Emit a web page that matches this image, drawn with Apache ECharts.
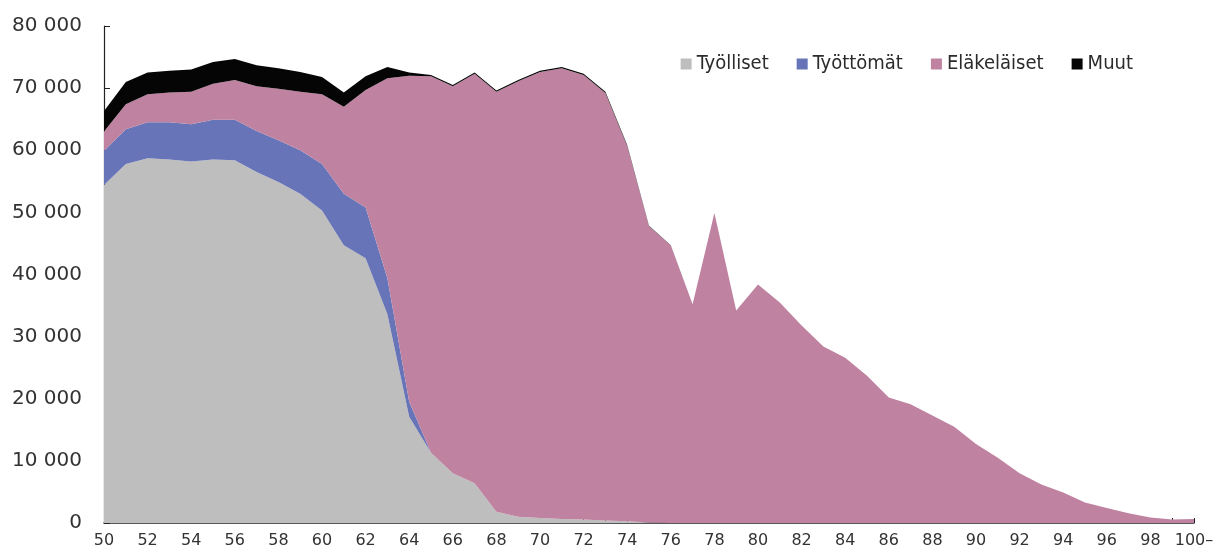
<!DOCTYPE html>
<html>
<head>
<meta charset="utf-8">
<script src="https://cdn.jsdelivr.net/npm/echarts@6/dist/echarts.min.js"></script>
<style>html,body{margin:0;padding:0;background:#fff}#c{width:1220px;height:554px}</style>
</head>
<body>
<div id="c"></div>
<script>
const ages = [];
for (let a = 50; a <= 99; a++) ages.push(String(a));
ages.push('100–');

const seriesNames = ['Työlliset', 'Työttömät', 'Eläkeläiset', 'Muut'];

const tyolliset = [54400,57800,58700,58500,58200,58500,58400,56500,54900,53000,
  50300,44700,42600,33600,17100,11300,8000,6400,1800,1000,
  800,650,550,400,300,100,0,0,0,0,
  0,0,0,0,0,0,0,0,0,0,
  0,0,0,0,0,0,0,0,0,0,0];
const tyottomat = [5500,5600,5800,6000,6000,6400,6500,6600,6700,7000,
  7500,8300,8200,5800,2400,0,0,0,0,0,
  0,0,0,0,0,0,0,0,0,0,
  0,0,0,0,0,0,0,0,0,0,
  0,0,0,0,0,0,0,0,0,0,0];
const elakelaiset = [3100,4000,4500,4800,5200,5800,6400,7200,8300,9400,
  11200,14000,18900,32200,52500,60600,62300,65900,67600,70100,
  71800,72550,71550,68800,60400,47650,44650,35200,49900,34200,
  38400,35500,31800,28400,26600,23700,20200,19100,17300,15500,
  12700,10500,8000,6200,4900,3300,2400,1550,900,550,650];
const muut = [3300,3600,3500,3500,3600,3500,3400,3400,3300,3200,
  2800,2300,2200,1800,500,200,200,200,200,200,
  200,200,200,200,150,80,50,0,0,0,
  0,0,0,0,0,0,0,0,0,0,
  0,0,0,0,0,0,0,0,0,0,0];

const colors = ['#bebebe', '#6774b8', '#bf82a0', '#050505'];
const values = [tyolliset, tyottomat, elakelaiset, muut];

const chart = echarts.init(document.getElementById('c'), null, {renderer: 'canvas'});
const fmt = v => String(v).replace(/\B(?=(\d{3})+(?!\d))/g, ' ');

chart.setOption({
  animation: false,
  color: colors,
  grid: {left: 104, right: 26, top: 26, bottom: 31, containLabel: false},
  legend: {
    data: seriesNames,
    right: 82, top: 49,
    itemWidth: 11, itemHeight: 11, itemGap: 28,
    icon: 'rect',
    textStyle: {fontFamily: 'DejaVu Sans Condensed, DejaVu Sans', fontSize: 20, color: '#2b2b2b'}
  },
  xAxis: {
    type: 'category',
    data: ages,
    boundaryGap: false,
    axisLine: {lineStyle: {color: '#222', width: 1.5}},
    axisTick: {inside: true, length: 5, interval: 0, lineStyle: {color: '#222'}},
    axisLabel: {interval: 1, margin: 10, fontFamily: 'DejaVu Sans', fontSize: 16, color: '#333'},
    splitLine: {show: false}
  },
  yAxis: {
    type: 'value',
    min: 0, max: 80000, interval: 10000,
    axisLine: {show: true, lineStyle: {color: '#222', width: 1.2}},
    axisTick: {show: true, inside: true, length: 6, lineStyle: {color: '#222'}},
    axisLabel: {formatter: fmt, margin: 22, fontFamily: 'DejaVu Sans', fontSize: 20, color: '#333'},
    splitLine: {show: false}
  },
  series: seriesNames.map((n, i) => ({
    name: n,
    type: 'line',
    stack: 'total',
    data: values[i],
    symbol: 'none',
    lineStyle: {width: 0},
    areaStyle: {color: colors[i], opacity: 1},
    itemStyle: {color: colors[i]}
  }))
});
</script>
</body>
</html>
